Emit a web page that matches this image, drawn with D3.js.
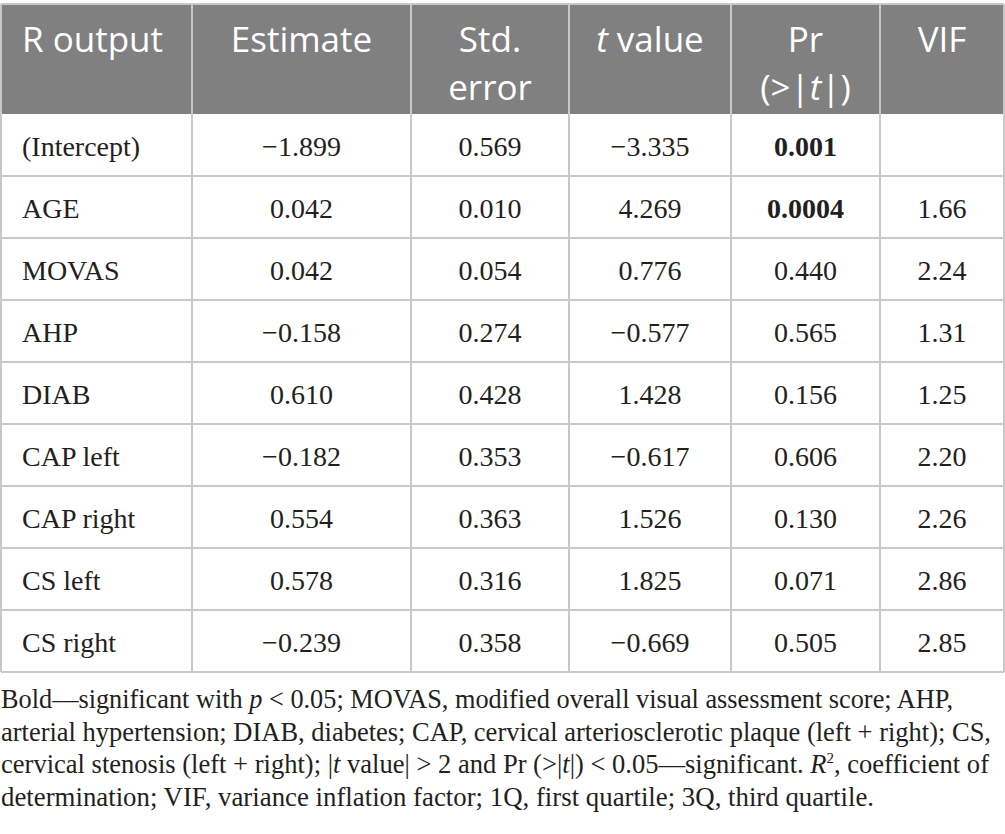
<!DOCTYPE html>
<html>
<head>
<meta charset="utf-8">
<script src="https://cdn.jsdelivr.net/npm/d3@7"></script>
<style>
  html, body { margin: 0; padding: 0; background: #fff; }
  svg { display: block; }
</style>
</head>
<body>
<div id="chart"></div>
<script>
// table content
var rowLabels = ["(Intercept)", "AGE", "MOVAS", "AHP", "DIAB", "CAP left", "CAP right", "CS left", "CS right"];
var estimates = [-1.899, 0.042, 0.042, -0.158, 0.610, -0.182, 0.554, 0.578, -0.239];
var stdErrors = [0.569, 0.010, 0.054, 0.274, 0.428, 0.353, 0.363, 0.316, 0.358];
var tValues = [-3.335, 4.269, 0.776, -0.577, 1.428, -0.617, 1.526, 1.825, -0.669];
var pValues = [0.001, 0.0004, 0.440, 0.565, 0.156, 0.606, 0.130, 0.071, 0.505];
var vifs = [null, 1.66, 2.24, 1.31, 1.25, 2.20, 2.26, 2.86, 2.85];

// header lines, each line a list of [text, italic]
var headers = [
  [[["R output", false]]],
  [[["Estimate", false]]],
  [[["Std.", false]], [["error", false]]],
  [[["t", true], [" value", false]]],
  [[["Pr", false]], [["(>|", false], ["t", true], ["|)", false]]],
  [[["VIF", false]]]
];

var notes = [
  [["Bold\u2014significant with ", false], ["p", true], [" < 0.05; MOVAS, modified overall visual assessment score; AHP,", false]],
  [["arterial hypertension; DIAB, diabetes; CAP, cervical arteriosclerotic plaque (left + right); CS,", false]],
  [["cervical stenosis (left + right); |", false], ["t", true], [" value| > 2 and Pr (>|", false], ["t", true], ["|) < 0.05\u2014significant. ", false], ["R", true], ["2", "sup"], [", coefficient of", false]],
  [["determination; VIF, variance inflation factor; 1Q, first quartile; 3Q, third quartile.", false]]
];

var svgWidth = 1005, svgHeight = 834;
var colEdges = [1, 192, 411, 569, 731, 880, 1004];
var headTop = 4, headBottom = 114, tableBottom = 672;
var noteWidths = [952, 990, 988, 873];
var ink = "#231f20";

var f3 = d3.format(".3f"), f4 = d3.format(".4f"), f2 = d3.format(".2f");

var rows = rowLabels.map(function(label, i) {
  var p = pValues[i];
  return [
    {text: label, bold: false},
    {text: f3(estimates[i]), bold: false},
    {text: f3(stdErrors[i]), bold: false},
    {text: f3(tValues[i]), bold: false},
    {text: p < 0.001 ? f4(p) : f3(p), bold: p < 0.05},
    {text: vifs[i] == null ? "" : f2(vifs[i]), bold: false}
  ];
});

var y = d3.scaleBand()
    .domain(rowLabels)
    .range([headBottom, tableBottom]);

var colCenter = function(j) { return (colEdges[j] + colEdges[j + 1]) / 2; };

var svg = d3.select("#chart").append("svg")
    .attr("width", svgWidth)
    .attr("height", svgHeight);

// header background
svg.append("rect")
    .attr("x", colEdges[0])
    .attr("y", headTop)
    .attr("width", colEdges[colEdges.length - 1] - colEdges[0])
    .attr("height", headBottom - headTop)
    .attr("fill", "#7f807f");

// horizontal rules
var hLines = [headTop].concat(rowLabels.map(function(d) { return y(d) + y.bandwidth(); }));
svg.selectAll(".hline")
    .data(hLines)
  .enter().append("line")
    .attr("x1", colEdges[0])
    .attr("x2", colEdges[colEdges.length - 1])
    .attr("y1", function(d) { return d; })
    .attr("y2", function(d) { return d; })
    .attr("stroke", "#c8c8c8")
    .attr("stroke-width", 2);

// vertical rules
svg.selectAll(".vline")
    .data(colEdges)
  .enter().append("line")
    .attr("x1", function(d) { return d; })
    .attr("x2", function(d) { return d; })
    .attr("y1", headTop)
    .attr("y2", tableBottom)
    .attr("stroke", "#c8c8c8")
    .attr("stroke-width", 2);

// header text: one text per cell, lines as tspans
headers.forEach(function(lines, j) {
  var x = j === 0 ? 22 : colCenter(j);
  var t = svg.append("text")
      .attr("x", x)
      .attr("y", 52)
      .attr("text-anchor", j === 0 ? "start" : "middle")
      .attr("font-family", "'Open Sans', sans-serif")
      .attr("font-size", 35)
      .attr("fill", "#fff");
  lines.forEach(function(segs, k) {
    segs.forEach(function(s, n) {
      var ts = t.append("tspan")
          .attr("font-style", s[1] ? "italic" : "normal")
          .text(s[0]);
      if (k > 0 && n === 0) ts.attr("x", x).attr("dy", 48);
    });
  });
});

// body cells
rows.forEach(function(cells, i) {
  var cy = y(rowLabels[i]) + y.bandwidth() / 2 + 11;
  cells.forEach(function(c, j) {
    svg.append("text")
        .attr("x", j === 0 ? 22 : colCenter(j))
        .attr("y", cy)
        .attr("text-anchor", j === 0 ? "start" : "middle")
        .attr("font-family", "'Liberation Serif', serif")
        .attr("font-size", 28)
        .attr("font-weight", c.bold ? "bold" : "normal")
        .attr("fill", ink)
        .text(c.text);
  });
});

// footnote
notes.forEach(function(segs, k) {
  var t = svg.append("text")
      .attr("x", 1)
      .attr("y", 708 + k * 32.5)
      .attr("font-family", "'Liberation Serif', serif")
      .attr("font-size", 26.5)
      .attr("fill", ink)
      .attr("textLength", noteWidths[k])
      .attr("lengthAdjust", "spacingAndGlyphs");
  segs.forEach(function(s, n) {
    var ts = t.append("tspan").text(s[0]);
    if (s[1] === true) ts.attr("font-style", "italic");
    if (s[1] === "sup") ts.attr("font-size", 15).attr("dy", -10);
    if (n > 0 && segs[n - 1][1] === "sup") ts.attr("dy", 10);
  });
});
</script>
</body>
</html>
